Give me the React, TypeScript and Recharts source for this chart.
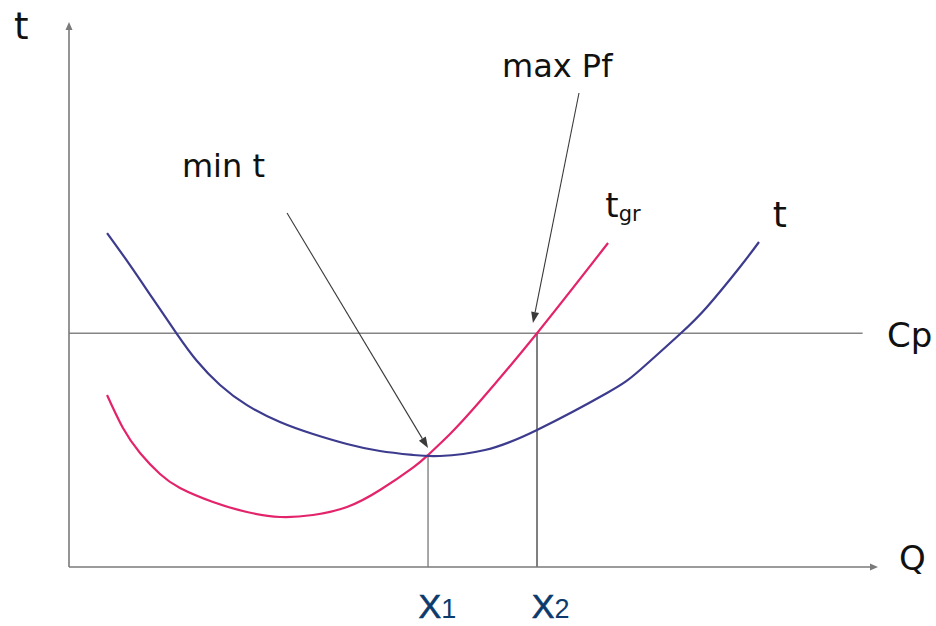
import React from 'react';
import { LineChart, Line, XAxis, YAxis, ReferenceLine, ReferenceDot } from 'recharts';

// Curve "t" (blue)
const blueQ = [4.7, 7.54, 10.38, 13.35, 15.82, 18.67, 22.0, 26.08, 30.16, 34.36, 38.44, 42.52, 45.86, 51.42, 57.85, 66.5, 70.58, 75.53, 78.86, 82.94, 85.29];
const blueT = [61.28, 55.4, 49.2, 42.75, 37.8, 33.4, 29.7, 26.6, 24.4, 22.57, 21.28, 20.55, 20.37, 21.47, 25.14, 31.93, 36.15, 42.75, 47.71, 55.05, 59.63];
// Curve "t_gr" (pink)
const pinkQ = [4.7, 6.67, 8.78, 11.25, 13.72, 17.8, 22.0, 26.08, 30.16, 34.36, 38.44, 42.52, 44.38, 47.1, 50.8, 57.85, 66.63];
const pinkT = [31.56, 25.5, 20.92, 17.06, 14.5, 11.93, 10.09, 9.17, 9.54, 11.01, 14.13, 18.25, 20.55, 24.4, 30.4, 42.9, 59.45];

// Reference values
const cpLevel = 42.9;
const cpEnd = 98.1;
const x1Q = 44.38;
const x1T = 20.55;
const x2Q = 57.85;
const x2T = 42.9;

// Annotation arrows (start -> tip)
const arrowMinT = [{ x: 26.95, y: 64.95 }, { x: 44.38, y: 21.83 }];
const arrowMaxPf = [{ x: 63.04, y: 86.97 }, { x: 57.35, y: 44.77 }];

// Text labels (data-space anchor = text start, baseline)
const labelNames = ['t', 'min t', 'max Pf', 't', 'Cp', 'Q'];
const labelQ = [-6.8, 13.96, 53.52, 87.0, 101.1, 102.6];
const labelT = [96.9, 71.56, 89.91, 62.39, 40.37, -0.55];
const labelSize = [37, 32, 32, 36, 34, 34];
const tgrPos = { q: 66.3, t: 64.22 };
const xLabels = ['X', 'X'];
const xLabelSubs = ['1', '2'];
const xLabelQ = [43.2, 57.2];
const xLabelT = -9.35;

const blueData = blueQ.map((q, i) => ({ q, t: blueT[i] }));
const pinkData = pinkQ.map((q, i) => ({ q, t: pinkT[i] }));

const BLUE = '#3c3b8e';
const PINK = '#e3246b';
const GRAY = '#858585';
const TEXT = '#111111';
const NAVY = '#0c3a6c';

const makeArrow = (color: string, width: number, headLen: number, headW: number) => (p: any) => {
  const { x1, y1, x2, y2 } = p;
  const ang = Math.atan2(y2 - y1, x2 - x1);
  const bx = x2 - headLen * Math.cos(ang);
  const by = y2 - headLen * Math.sin(ang);
  const nx = -Math.sin(ang) * headW / 2;
  const ny = Math.cos(ang) * headW / 2;
  return (
    <g>
      <line x1={x1} y1={y1} x2={bx} y2={by} stroke={color} strokeWidth={width} />
      <polygon points={`${x2},${y2} ${bx + nx},${by + ny} ${bx - nx},${by - ny}`} fill={color} />
    </g>
  );
};

const plainLine = (color: string, width: number) => (p: any) => (
  <line x1={p.x1} y1={p.y1} x2={p.x2} y2={p.y2} stroke={color} strokeWidth={width} />
);

export default function App() {
  return (
    <div style={{ position: 'absolute', left: 0, top: 0, width: 936, height: 626, background: '#fff' }}>
      <LineChart width={936} height={626} margin={{ top: 22, right: 58, bottom: 59, left: 69 }}>
        <XAxis type="number" dataKey="q" domain={[0, 100]} hide allowDataOverflow />
        <YAxis type="number" dataKey="t" domain={[0, 100]} hide allowDataOverflow />

        <ReferenceLine segment={[{ x: 0, y: cpLevel }, { x: cpEnd, y: cpLevel }]} ifOverflow="visible" shape={plainLine(GRAY, 1.5)} />
        <ReferenceLine segment={[{ x: x1Q, y: 0 }, { x: x1Q, y: x1T }]} ifOverflow="visible" shape={plainLine('#8a8a8a', 1.5)} />
        <ReferenceLine segment={[{ x: x2Q, y: 0 }, { x: x2Q, y: x2T }]} ifOverflow="visible" shape={plainLine('#3a3a3a', 1.3)} />

        <Line data={pinkData} dataKey="t" type="natural" stroke={PINK} strokeWidth={2.2} dot={false} activeDot={false} isAnimationActive={false} />
        <Line data={blueData} dataKey="t" type="natural" stroke={BLUE} strokeWidth={2.2} dot={false} activeDot={false} isAnimationActive={false} />

        <ReferenceLine segment={[{ x: 0, y: 0 }, { x: 0, y: 100 }]} ifOverflow="visible" shape={makeArrow('#7a7a7a', 1.6, 8, 7)} />
        <ReferenceLine segment={[{ x: 0, y: 0 }, { x: 100, y: 0 }]} ifOverflow="visible" shape={makeArrow('#7a7a7a', 1.6, 8, 7)} />

        <ReferenceLine segment={arrowMinT} ifOverflow="visible" shape={makeArrow('#3a3a3a', 1.1, 11, 8)} />
        <ReferenceLine segment={arrowMaxPf} ifOverflow="visible" shape={makeArrow('#3a3a3a', 1.1, 11, 8)} />

        {labelNames.map((name, i) => (
          <ReferenceDot
            key={`lbl-${i}`}
            x={labelQ[i]}
            y={labelT[i]}
            r={0}
            ifOverflow="visible"
            shape={(p: any) => (
              <text x={p.cx} y={p.cy} fontFamily="'DejaVu Sans', Verdana, sans-serif" fontSize={labelSize[i]} fill={TEXT}>
                {name}
              </text>
            )}
          />
        ))}
        <ReferenceDot
          x={tgrPos.q}
          y={tgrPos.t}
          r={0}
          ifOverflow="visible"
          shape={(p: any) => (
            <text x={p.cx} y={p.cy} fontFamily="'DejaVu Sans', Verdana, sans-serif" fontSize={34} fill={TEXT}>
              t
              <tspan fontSize={21} dy={4}>gr</tspan>
            </text>
          )}
        />
        {xLabels.map((name, i) => (
          <ReferenceDot
            key={`x-${i}`}
            x={xLabelQ[i]}
            y={xLabelT}
            r={0}
            ifOverflow="visible"
            shape={(p: any) => (
              <text x={p.cx} y={p.cy} fontFamily="'Liberation Sans', Arial, sans-serif" fontSize={34} fill={NAVY} stroke={NAVY} strokeWidth={0.6}>
                {name}
                <tspan fontSize={27} strokeWidth={0}>{xLabelSubs[i]}</tspan>
              </text>
            )}
          />
        ))}
      </LineChart>
    </div>
  );
}
